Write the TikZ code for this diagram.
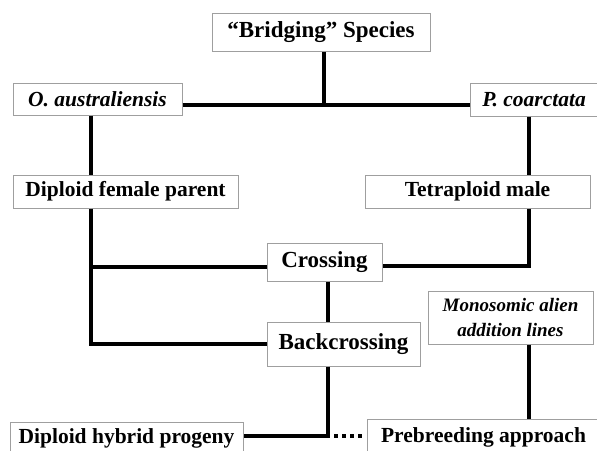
\documentclass[tikz,border=0pt]{standalone}
\usepackage{fontspec}
\setmainfont{Liberation Serif}
\tikzset{
  box/.style={draw=gray!75, line width=0.5pt, fill=white, inner sep=0pt,
    font=\bfseries\fontsize{10.75}{12}\selectfont},
  bigbox/.style={box, font=\bfseries\fontsize{11.5}{13}\selectfont},
  link/.style={line width=2pt, line join=miter},
}
\begin{document}
\begin{tikzpicture}[x=0.5pt, y=-0.5pt]
\clip (0,0) rectangle (597,450);
\fill[white] (0,0) rectangle (597,450);
\node[bigbox, minimum width=109pt, minimum height=19pt] (bridge) at (321,32) {``Bridging'' Species};
\node[box, minimum width=84.5pt, minimum height=16pt, font=\bfseries\itshape\fontsize{10.75}{12}\selectfont] (oaus) at (97.5,99) {O. australiensis};
\node[box, minimum width=64pt, minimum height=16.5pt, font=\bfseries\itshape\fontsize{10.75}{12}\selectfont] (pcoa) at (534,99.5) {P. coarctata};
\node[box, minimum width=112.5pt, minimum height=16.5pt] (dfem) at (125.5,191.5) {Diploid female parent};
\node[box, minimum width=112.5pt, minimum height=16.5pt] (tmale) at (477.5,191.5) {Tetraploid male};
\node[bigbox, minimum width=57.5pt, minimum height=19pt] (cross) at (324.5,262) {Crossing};
\node[bigbox, minimum width=76.5pt, minimum height=22pt] (back) at (343.5,344) {Backcrossing};
\node[box, minimum width=82.5pt, minimum height=26.5pt, align=center, font=\bfseries\itshape\fontsize{9.5}{12.5}\selectfont] (mono) at (510.5,317.5) {Monosomic alien\\addition lines};
\node[box, minimum width=116.5pt, minimum height=16.5pt] (dhyb) at (126.5,438.5) {Diploid hybrid progeny};
\node[box, minimum width=116.5pt, minimum height=18pt] (preb) at (483.5,437) {Prebreeding approach};

\coordinate (top) at (324,105);
\coordinate (xjoin) at (91,267);
\coordinate (bjoin) at (91,344);
\coordinate (rjoin) at (529,266);
\coordinate (hjoin) at (328,436);

\draw[link] (bridge.south -| top) -- (top);
\draw[link] (oaus.east |- top) -- (pcoa.west |- top);
\draw[link] (oaus.south -| xjoin) -- (dfem.north -| xjoin);
\draw[link] (dfem.south -| xjoin) -- (bjoin) -- (back.west |- bjoin);
\draw[link] (xjoin) -- (cross.west |- xjoin);
\draw[link] (pcoa.south -| rjoin) -- (tmale.north -| rjoin);
\draw[link] (tmale.south -| rjoin) -- (rjoin) -- (cross.east |- rjoin);
\draw[link] (cross.south -| hjoin) -- (back.north -| hjoin);
\draw[link] (back.south -| hjoin) -- (hjoin) -- (dhyb.east |- hjoin);
\draw[link, dash pattern=on 2pt off 2pt] ([xshift=3pt]hjoin) -- ([xshift=-2pt]preb.west |- hjoin);
\draw[link] (mono.south -| rjoin) -- (preb.north -| rjoin);
\end{tikzpicture}
\end{document}
